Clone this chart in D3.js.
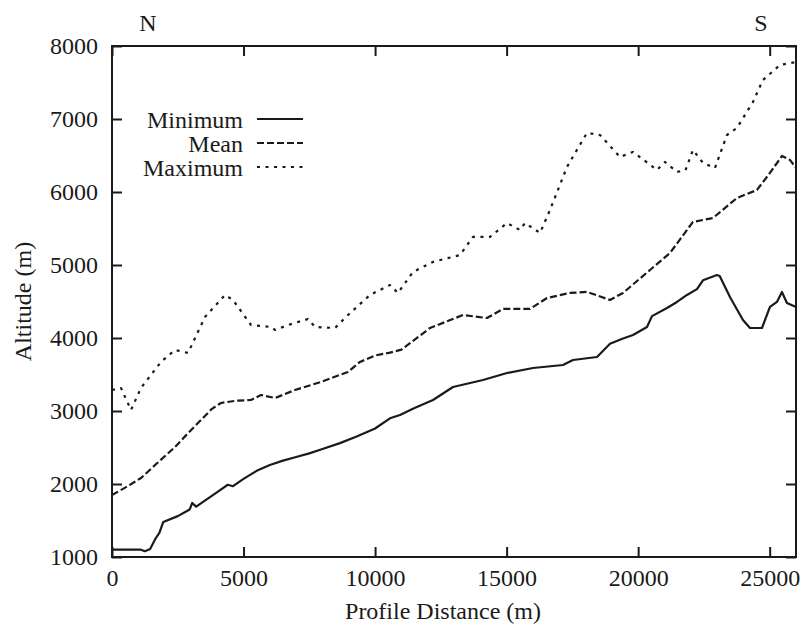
<!DOCTYPE html>
<html>
<head>
<meta charset="utf-8">
<script src="https://cdn.jsdelivr.net/npm/d3@7"></script>
<style>
  html, body { margin: 0; padding: 0; background: #fff; }
  svg { display: block; }
</style>
</head>
<body>
<svg id="chart" width="802" height="624"></svg>
<script>
// Altitude profile along the section line (distance in m, altitude in m)
const minimumProfile = [
  [0,1100],[600,1100],[1100,1100],[1250,1080],[1450,1110],[1650,1250],[1800,1330],
  [1950,1480],[2500,1560],[2800,1620],[2950,1650],[3050,1740],[3200,1690],[3600,1790],
  [4000,1890],[4400,1990],[4600,1970],[5000,2070],[5500,2180],[6000,2260],[6500,2320],
  [7000,2370],[7500,2420],[8000,2480],[8666,2560],[9300,2650],[10000,2760],[10566,2900],
  [10947,2945],[11500,3040],[12202,3151],[12962,3329],[14102,3425],[15014,3520],
  [16003,3589],[17143,3630],[17523,3699],[18435,3740],[18929,3920],[19400,3990],
  [19804,4041],[20336,4151],[20526,4300],[21096,4411],[21476,4494],[21856,4590],
  [22236,4670],[22464,4790],[22996,4863],[23100,4850],[23490,4562],[23984,4247],
  [24250,4137],[24706,4137],[25010,4425],[25276,4494],[25466,4631],[25656,4480],[26000,4425]
];
const meanProfile = [
  [0,1849],[500,1950],[1102,2082],[1700,2280],[2395,2507],[2900,2700],[3383,2877],
  [3800,3030],[4143,3110],[4700,3140],[5284,3151],[5664,3219],[6196,3178],[6956,3288],
  [7945,3398],[8970,3535],[9426,3672],[10000,3760],[10566,3800],[11000,3840],[12086,4137],
  [13341,4315],[14254,4274],[14862,4398],[15888,4398],[16535,4548],[17409,4617],
  [18055,4631],[18929,4521],[19424,4617],[20450,4932],[21210,5165],[22084,5590],
  [22844,5644],[23756,5918],[24516,6028],[25010,6261],[25466,6494],[25770,6439],[26000,6330]
];
const maximumProfile = [
  [0,3288],[342,3315],[722,3014],[1102,3315],[1862,3672],[2395,3836],[2889,3795],
  [3535,4288],[4295,4590],[4599,4521],[5284,4178],[6044,4151],[6196,4110],[6690,4178],
  [7450,4260],[7716,4151],[8476,4137],[8970,4315],[9806,4590],[10566,4726],[10870,4617],
  [11440,4905],[12202,5042],[13228,5137],[13721,5384],[14368,5384],[15014,5575],
  [15508,5480],[15700,5575],[16270,5439],[16649,5754],[17295,6343],[17714,6603],
  [18055,6809],[18549,6781],[19310,6480],[19804,6549],[20716,6302],[21020,6411],
  [21476,6275],[21800,6300],[22084,6576],[22464,6398],[22920,6330],[23376,6781],
  [23756,6877],[24364,7233],[24744,7535],[25390,7740],[26000,7781]
];
const seriesNames = ["Minimum", "Mean", "Maximum"];
const xTicks = [0, 5000, 10000, 15000, 20000, 25000];
const yTicks = [1000, 2000, 3000, 4000, 5000, 6000, 7000, 8000];
const endLabels = ["N", "S"];

const margin = { left: 112, right: 6, top: 46, bottom: 67 };
const W = 802, H = 624;
const serif = "'Liberation Serif', 'Times New Roman', Times, 'DejaVu Serif', serif";
const svg = d3.select("#chart").style("font-family", serif);
const ink = "#1a1a1a";

const x = d3.scaleLinear().domain([0, 26000]).range([margin.left, W - margin.right]);
const y = d3.scaleLinear().domain([1000, 8000]).range([H - margin.bottom, margin.top]);

const styles = [
  { dash: null },
  { dash: "7,3" },
  { dash: "3,5.5" }
];

// Profiles
const line = d3.line().x(d => x(d[0])).y(d => y(d[1]));
[minimumProfile, meanProfile, maximumProfile].forEach((data, i) => {
  svg.append("path")
    .datum(data)
    .attr("d", line)
    .attr("fill", "none")
    .attr("stroke", ink)
    .attr("stroke-width", 2.2)
    .attr("stroke-linejoin", "round")
    .attr("stroke-dasharray", styles[i].dash);
});

// Axes with inward ticks on all four sides
const fontSize = 24;
function styleAxis(g) {
  g.attr("font-family", null).style("font-family", serif);
  g.select(".domain").remove();
  g.selectAll(".tick line").attr("stroke", ink).attr("stroke-width", 2);
  g.selectAll(".tick text")
    .style("font-family", serif)
    .attr("font-size", fontSize)
    .attr("fill", ink);
}
svg.append("g")
  .attr("transform", `translate(0,${y(1000)})`)
  .call(d3.axisBottom(x).tickValues(xTicks).tickFormat(d3.format("d")).tickSize(-10).tickPadding(12))
  .call(styleAxis);
svg.append("g")
  .attr("transform", `translate(0,${y(8000)})`)
  .call(d3.axisTop(x).tickValues(xTicks).tickFormat("").tickSize(-10))
  .call(styleAxis);
svg.append("g")
  .attr("transform", `translate(${x(0)},0)`)
  .call(d3.axisLeft(y).tickValues(yTicks).tickFormat(d3.format("d")).tickSize(-10).tickPadding(14))
  .call(styleAxis);
svg.append("g")
  .attr("transform", `translate(${x(26000)},0)`)
  .call(d3.axisRight(y).tickValues(yTicks).tickFormat("").tickSize(-10))
  .call(styleAxis);

// Frame
svg.append("rect")
  .attr("x", x(0)).attr("y", y(8000))
  .attr("width", x(26000) - x(0)).attr("height", y(1000) - y(8000))
  .attr("fill", "none").attr("stroke", ink).attr("stroke-width", 2);

function label(xp, yp, str, anchor) {
  return svg.append("text")
    .attr("x", xp).attr("y", yp)
    .attr("text-anchor", anchor || "middle")
    .attr("font-size", fontSize)
    .attr("fill", ink)
    .style("font-family", serif)
    .text(str);
}

// Axis titles
label((x(0) + x(26000)) / 2 - 11, 619, "Profile Distance (m)");
label(0, 0, "Altitude (m)")
  .attr("transform", `translate(31,${(y(1000) + y(8000)) / 2}) rotate(-90)`);

// Direction labels
label(148, 31, endLabels[0]);
label(761, 31, endLabels[1]);

// Legend
seriesNames.forEach((name, i) => {
  const baseY = 128 + i * 24;
  label(243, baseY, name, "end");
  svg.append("line")
    .attr("x1", 257).attr("x2", 303)
    .attr("y1", baseY - 9).attr("y2", baseY - 9)
    .attr("stroke", ink).attr("stroke-width", 2.2)
    .attr("stroke-dasharray", styles[i].dash);
});
</script>
</body>
</html>
